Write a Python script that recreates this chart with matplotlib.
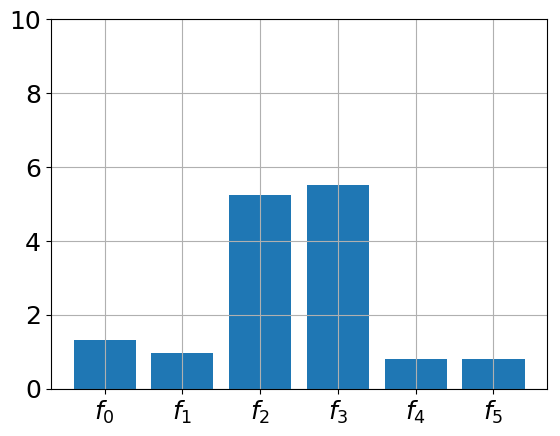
import matplotlib.pyplot as plt

# bar heights
labels = ['$f_0$', '$f_1$', '$f_2$', '$f_3$', '$f_4$', '$f_5$']
values = [1.31, 0.96, 5.24, 5.51, 0.80, 0.82]

fig, ax = plt.subplots(figsize=(5.6, 4.36), dpi=100)
ax.bar(labels, values, color='#1f77b4')
ax.set_ylim(0, 10)
ax.tick_params(axis='both', labelsize=18)
ax.grid(True)

fig.subplots_adjust(left=0.091, right=0.977, top=0.956, bottom=0.108)
plt.savefig('out.png', dpi=100)
